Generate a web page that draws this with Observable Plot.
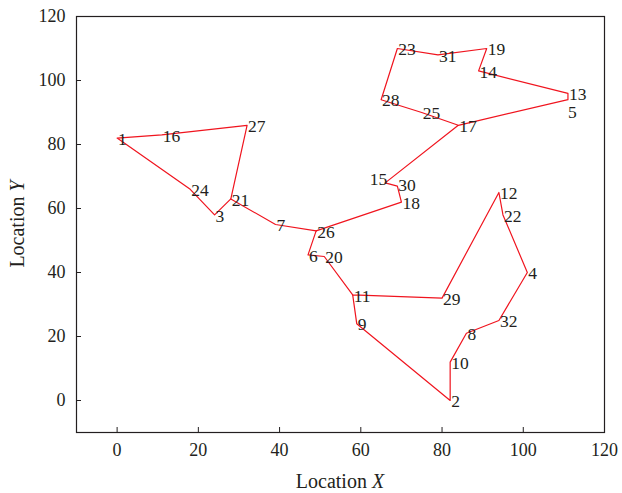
<!DOCTYPE html>
<html>
<head>
<meta charset="utf-8">
<script src="https://cdn.jsdelivr.net/npm/d3@7"></script>
<script src="https://cdn.jsdelivr.net/npm/@observablehq/plot@0.6"></script>
<style>
  html, body { margin: 0; padding: 0; background: #fff; }
  #chart { width: 622px; height: 493px; }
</style>
</head>
<body>
<div id="chart"></div>
<script>
// City ids and coordinates
const ids = [1, 2, 3, 4, 5, 6, 7, 8, 9, 10, 11, 12, 13, 14, 15, 16,
             17, 18, 19, 20, 21, 22, 23, 24, 25, 26, 27, 28, 29, 30, 31, 32];
const xs  = [0, 82, 24, 101, 111, 47, 39, 86, 59, 82, 58, 94, 111, 89, 66, 11,
             84, 70, 91, 51, 28, 95, 69, 18, 75, 49, 32, 65, 80, 69, 79, 94];
const ys  = [82, 0, 58, 40, 94, 45.5, 55, 21, 24, 12, 33, 65, 96, 103, 68, 83,
             86, 62, 110, 45, 63, 58, 110, 66, 90, 53, 86, 94, 32, 67, 108, 25];

// Route pieces (sequences of city ids)
const routeA = [21, 27, 16, 1, 24, 3, 21];
const routeB = [21, 7, 26];
const routeC = [26, 18, 30, 15, 17, 25, 28, 23, 31, 19, 14, 13, 5, 17];
const routeD = [26, 6, 20, 11];
const routeE = [11, 29, 12, 22, 4, 32, 8, 10, 2, 9, 11];
const routes = [routeA, routeB, routeC, routeD, routeE];

const xTicks = [0, 20, 40, 60, 80, 100, 120];
const yTicks = [0, 20, 40, 60, 80, 100, 120];

const nodes = ids.map((id, i) => ({id, x: xs[i], y: ys[i]}));
const byId = new Map(nodes.map(d => [d.id, d]));
const pathRows = routes.flatMap((r, k) => r.map(id => ({...byId.get(id), route: k})));

const serif = "'Liberation Serif', 'DejaVu Serif', serif";
const ink = "#231f20";

const plot = Plot.plot({
  width: 622,
  height: 493,
  marginLeft: 76,
  marginRight: 18,
  marginTop: 16,
  marginBottom: 61,
  style: {fontFamily: serif, fontSize: "18px", color: ink, background: "#fff"},
  x: {domain: [-10, 120], ticks: xTicks, label: null},
  y: {domain: [-10, 120], ticks: yTicks, label: null},
  marks: [
    Plot.frame({stroke: ink, strokeWidth: 1.2}),
    Plot.axisX({ticks: xTicks, tickSize: -5, tickPadding: 16, fontSize: 18, fill: ink, stroke: ink, label: null}),
    Plot.axisY({ticks: yTicks, tickSize: -5, tickPadding: 16, fontSize: 18, fill: ink, stroke: ink, label: null}),
    Plot.line(pathRows, {x: "x", y: "y", z: "route", stroke: "#f0141e", strokeWidth: 1.2}),
    Plot.text(nodes.filter(d => ![5, 15, 30].includes(d.id)), {
      x: "x", y: "y", text: d => String(d.id), textAnchor: "start", dx: 1, dy: 1,
      fontSize: 17.5, fill: ink
    }),
    Plot.text(nodes.filter(d => d.id === 30), {
      x: "x", y: "y", text: d => String(d.id), textAnchor: "start", dx: 1, dy: -1,
      fontSize: 17.5, fill: ink
    }),
    Plot.text(nodes.filter(d => d.id === 15), {
      x: "x", y: "y", text: d => String(d.id), textAnchor: "end", dx: 2, dy: -4,
      fontSize: 17.5, fill: ink
    }),
    Plot.text(nodes.filter(d => d.id === 5), {
      x: "x", y: "y", text: d => String(d.id), textAnchor: "start", dx: 0, dy: 13,
      fontSize: 17.5, fill: ink
    })
  ]
});

const svg = d3.select(plot);
svg.append("text")
  .attr("x", 340).attr("y", 488)
  .attr("text-anchor", "middle")
  .attr("font-family", serif).attr("font-size", 20).attr("fill", ink)
  .call(t => { t.append("tspan").text("Location "); t.append("tspan").attr("font-style", "italic").text("X"); });
svg.append("text")
  .attr("transform", "translate(24,224) rotate(-90)")
  .attr("text-anchor", "middle")
  .attr("font-family", serif).attr("font-size", 20).attr("fill", ink)
  .call(t => { t.append("tspan").text("Location "); t.append("tspan").attr("font-style", "italic").text("Y"); });

document.getElementById("chart").appendChild(plot);
</script>
</body>
</html>
